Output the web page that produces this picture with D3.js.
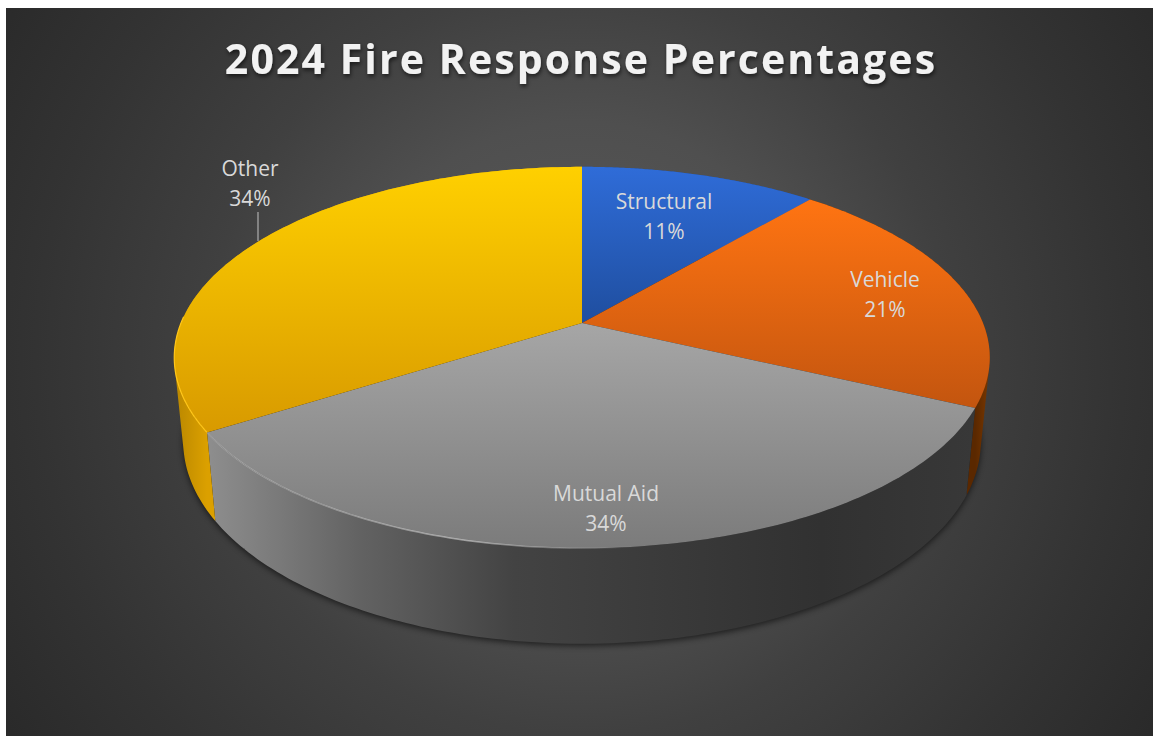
<!DOCTYPE html>
<html lang="en">
<head>
    <meta charset="UTF-8">
    <title>2024 Fire Response Percentages</title>
    <script src="https://d3js.org/d3.v7.min.js"></script>
    <style>
        html, body { margin: 0; padding: 0; background: #fff; overflow: hidden; }
        text { font-family: "Open Sans", sans-serif; }
    </style>
</head>
<body>
<svg></svg>
<script>

    var categories = ["Structural", "Vehicle", "Mutual Aid", "Other"];
    var values = [11.2, 20.8, 34, 34];
    var percentLabels = ["11%", "21%", "34%", "34%"];

    var width = 1153, height = 736;

    // slice colours: top of the gradient, bottom of the gradient
    var topColors = [["#2f6cd8", "#1f4e9f"], ["#ff7412", "#c3550f"], ["#a6a6a6", "#7b7b7b"], ["#ffd000", "#d89a00"]];
    // side wall colours from left to right
    var wallColors = [
        ["#1f4e9f", "#1f4e9f"],
        ["#5a2800", "#7a3800"],
        ["#8e8e8e", "#626262", "#434343", "#3a3a3a", "#313131", "#383838"],
        ["#b98700", "#dba000"]
    ];
    // where excel put the labels
    var labelAnchors = [[664, 217], [885, 295], [606, 509], [250, 184]];

    // perspective disc, fitted to the picture
    var cx = 582, cy = 323, rx = 401, ryTop = 126, tilt = 0.181;
    var wallScale = 0.978, wallStretch = 1.06, wallY = 405;

    function project(angle) {
        var X = Math.sin(angle), Y = -Math.cos(angle);
        return [rx * X / (1 - tilt * Y), (ryTop * Y + cy) / (1 - tilt * Y)];
    }
    function topPoint(angle) {
        var p = project(angle);
        return [cx + p[0], p[1]];
    }
    function bottomPoint(angle) {
        var p = project(angle);
        return [cx + wallScale * p[0], wallY + wallStretch * (p[1] - cy)];
    }
    function sample(a0, a1) {
        return d3.range(0, 121).map(function (i) { return a0 + (a1 - a0) * i / 120; });
    }

    var line = d3.line();
    var svg = d3.select("svg").attr("width", width).attr("height", height)
        .style("display", "block");
    var defs = svg.append("defs");

    var slices = d3.pie().sort(null).value(function (d) { return d; })(values);

    // background
    var bg = defs.append("radialGradient").attr("id", "bg")
        .attr("gradientUnits", "userSpaceOnUse")
        .attr("cx", 580).attr("cy", 360).attr("r", 680);
    [[0, "#5b5b5b"], [0.35, "#4f4f4f"], [0.55, "#404040"], [0.8, "#333333"], [1, "#2a2a2a"]].forEach(function (s) {
        bg.append("stop").attr("offset", s[0]).attr("stop-color", s[1]);
    });
    svg.append("rect").attr("x", 6).attr("y", 8)
        .attr("width", width - 6).attr("height", height - 8)
        .attr("fill", "url(#bg)");

    defs.append("filter").attr("id", "soft").attr("x", "-10%").attr("y", "-10%").attr("width", "120%").attr("height", "120%")
        .append("feGaussianBlur").attr("stdDeviation", 3);
    defs.append("filter").attr("id", "rimBlur").attr("x", "-5%").attr("y", "-5%").attr("width", "110%").attr("height", "110%")
        .append("feGaussianBlur").attr("stdDeviation", 0.5);
    var ts = defs.append("filter").attr("id", "titleShadow").attr("x", "-5%").attr("y", "-20%").attr("width", "110%").attr("height", "150%");
    ts.append("feDropShadow").attr("dx", 1).attr("dy", 2.5).attr("stdDeviation", 2)
        .attr("flood-color", "#000").attr("flood-opacity", 0.6);

    // shadow below the pie
    var fullRing = sample(0, 2 * Math.PI);
    svg.append("path")
        .attr("d", line(fullRing.map(function (a) {
            var p = bottomPoint(a);
            return [p[0], p[1] + 2];
        })) + "Z")
        .attr("fill", "#000").attr("opacity", 0.6)
        .attr("filter", "url(#soft)");

    // walls: one path of small quads, all wound the same way so the fill is a clean union
    slices.forEach(function (s, i) {
        var angles = sample(s.startAngle, s.endAngle);
        // only the part facing the viewer counts for the gradient
        var front = angles.filter(function (a) { return -Math.cos(a) >= tilt; });
        var xs = front.map(function (a) { return topPoint(a)[0]; });
        var x0 = xs.length ? d3.min(xs) : 0, x1 = xs.length ? d3.max(xs) : 1;

        var grad = defs.append("linearGradient").attr("id", "wall" + i)
            .attr("gradientUnits", "userSpaceOnUse")
            .attr("x1", x0).attr("x2", x1).attr("y1", 0).attr("y2", 0);
        wallColors[i].forEach(function (c, j) {
            grad.append("stop").attr("offset", j / (wallColors[i].length - 1)).attr("stop-color", c);
        });

        var d = d3.pairs(angles).map(function (p) {
            var quad = [topPoint(p[0]), topPoint(p[1]), bottomPoint(p[1]), bottomPoint(p[0])];
            if (d3.polygonArea(quad) < 0) quad.reverse();
            return line(quad) + "Z";
        }).join("");

        svg.append("path").attr("class", "wall")
            .attr("d", d)
            .attr("fill", "url(#wall" + i + ")");
    });

    // top of the pie
    slices.forEach(function (s, i) {
        var grad = defs.append("linearGradient").attr("id", "top" + i)
            .attr("x1", 0).attr("x2", 0).attr("y1", 0).attr("y2", 1);
        grad.append("stop").attr("offset", 0).attr("stop-color", topColors[i][0]);
        grad.append("stop").attr("offset", 1).attr("stop-color", topColors[i][1]);

        var pts = [[cx, cy]].concat(sample(s.startAngle, s.endAngle).map(topPoint));
        svg.append("path").attr("class", "slice")
            .attr("d", line(pts) + "Z")
            .attr("fill", "url(#top" + i + ")");
    });

    // light rim on the front edge of the grey and yellow slices
    var rimGrad = defs.append("linearGradient").attr("id", "rim")
        .attr("gradientUnits", "userSpaceOnUse")
        .attr("x1", 207).attr("x2", 640).attr("y1", 0).attr("y2", 0);
    rimGrad.append("stop").attr("offset", 0).attr("stop-color", "#fff").attr("stop-opacity", 0.2);
    rimGrad.append("stop").attr("offset", 0.6).attr("stop-color", "#fff").attr("stop-opacity", 0.45);
    rimGrad.append("stop").attr("offset", 1).attr("stop-color", "#fff").attr("stop-opacity", 0);
    svg.append("path")
        .attr("d", line(sample(slices[2].startAngle, slices[2].endAngle).map(topPoint)))
        .attr("fill", "none").attr("stroke", "url(#rim)").attr("stroke-width", 1.5)
        .attr("filter", "url(#rimBlur)");
    svg.append("path")
        .attr("d", line(sample(slices[3].startAngle, slices[3].startAngle + 0.6).map(topPoint)))
        .attr("fill", "none").attr("stroke", "#ffc61a").attr("stroke-width", 1.2)
        .attr("filter", "url(#rimBlur)");

    // title
    svg.append("text")
        .attr("x", 581).attr("y", 74)
        .attr("text-anchor", "middle")
        .attr("font-size", 41).attr("font-weight", 700)
        .attr("letter-spacing", 2.1)
        .attr("fill", "#f2f2f2")
        .attr("filter", "url(#titleShadow)")
        .text("2024 Fire Response Percentages");

    // data labels
    categories.forEach(function (c, i) {
        var a = labelAnchors[i];
        var g = svg.append("text").attr("text-anchor", "middle")
            .attr("font-size", 21).attr("fill", "#d9d9d9");
        g.append("tspan").attr("x", a[0]).attr("y", a[1] - 8).text(c);
        g.append("tspan").attr("x", a[0]).attr("y", a[1] + 22).text(percentLabels[i]);
    });

    // leader line for Other
    svg.append("line")
        .attr("x1", 258).attr("x2", 258).attr("y1", 212).attr("y2", 241)
        .attr("stroke", "#a6a6a6").attr("stroke-width", 1.3);

</script>
</body>
</html>
